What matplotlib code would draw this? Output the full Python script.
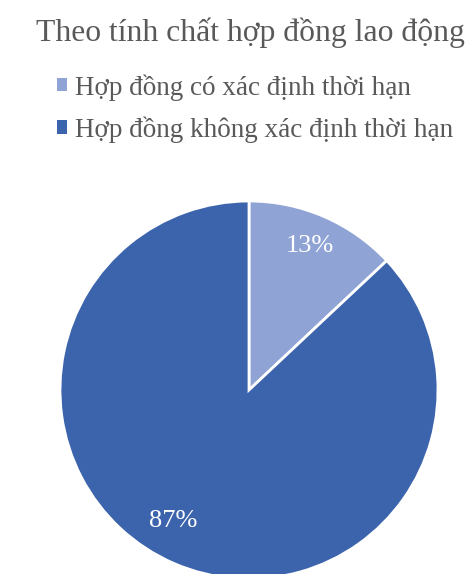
import numpy as np
import matplotlib
matplotlib.use("Agg")
import matplotlib.pyplot as plt
from matplotlib.patches import Patch

plt.rcParams['font.family'] = ['Liberation Serif', 'DejaVu Serif']

title = 'Theo tính chất hợp đồng lao động'
labels = ['Hợp đồng có xác định thời hạn', 'Hợp đồng không xác định thời hạn']
values = [13, 87]
colors = ['#8FA3D4', '#3C64AC']
# label placement (radius fraction, clockwise angle from top in degrees)
label_pos = [(0.83, 23), (0.80, 210)]

W, H = 468, 574
fig = plt.figure(figsize=(W / 100, H / 100), dpi=100)

cx, cy, r = 249, 574 - 390, 189
ax = fig.add_axes([(cx - r) / W, (cy - r) / H, 2 * r / W, 2 * r / H])
ax.pie(values, colors=colors, startangle=90, counterclock=False,
       wedgeprops=dict(edgecolor='white', linewidth=2))
ax.set_xlim(-1, 1)
ax.set_ylim(-1, 1)
ax.set_aspect('equal')
ax.axis('off')

for v, (rr, ang) in zip(values, label_pos):
    a = np.deg2rad(ang)
    ax.text(rr * np.sin(a), rr * np.cos(a), '%d%%' % v, color='white',
            fontsize=19, ha='center', va='center')

fig.text(250 / W, 1 - 33 / H, title, fontsize=22.8, color='#595959',
         ha='center', va='center')

handles = [Patch(facecolor=c, edgecolor='none') for c in colors]
fig.legend(handles, labels, loc='upper left', bbox_to_anchor=(57 / W, 1 - 74 / H),
           frameon=False, fontsize=19.5, labelcolor='#595959',
           handlelength=0.37, handleheight=0.37, handletextpad=0.28,
           labelspacing=0.58, borderpad=0, borderaxespad=0)

fig.savefig('out.png', dpi=100)
